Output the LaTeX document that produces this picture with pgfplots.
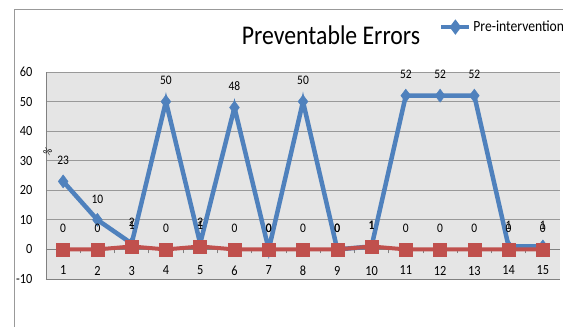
\documentclass[border=0pt]{standalone}
\usepackage{pgfplots}
\pgfplotsset{compat=1.18}
\usepackage{fontspec}
\setmainfont{Carlito}[FakeStretch=0.88]
\definecolor{cblue}{HTML}{4F81BD}
\definecolor{cred}{HTML}{C0504D}
\begin{document}
\begin{tikzpicture}[x=1pt,y=1pt]
\useasboundingbox (0,0) rectangle (563,327);
\draw[gray!80, line width=0.8pt] (14,0) -- (14,318) -- (563,318);
\node[font=\fontsize{27}{30}\selectfont, inner sep=0pt] at (331,292) {Preventable Errors};
\begin{axis}[at={(46pt,48pt)}, anchor=south west, scale only axis,
  width=514pt, height=207pt,
  xmin=0.5, xmax=15.5, ymin=-10, ymax=60,
  ytick={-10,0,10,20,30,40,50,60},
  xtick={1,...,15},
  axis x line*=middle, axis y line*=left,
  axis line style={gray, line width=0.8pt, -},
  axis background/.style={fill=gray!20},
  ymajorgrids, grid style={gray!80, line width=0.8pt},
  major tick length=0pt,
  ytick style={gray, line width=0.8pt},
  y tick label style={font=\fontsize{14}{15}\selectfont},
  yticklabel style={xshift=-10pt},
  x tick label style={font=\fontsize{14}{15}\selectfont, yshift=-13pt},
  /pgf/number format/assume math mode=true,
  extra x ticks={1.5,2.5,...,14.5},
  extra x tick labels={},
  extra x tick style={major tick length=4pt, tick align=outside, grid=none, tick style={gray, line width=0.7pt}},
  nodes near coords,
  every node near coord/.append style={font=\fontsize{13}{14}\selectfont, black, yshift=13pt},
  legend style={at={(0.765,1.217)}, anchor=west, draw=none, fill=none,
    font=\fontsize{15.5}{16}\selectfont, inner sep=0pt},
  legend image code/.code={
    \draw[cblue, line width=4pt] (0pt,0pt) -- (28pt,0pt);
    \fill[cblue] (14pt,4pt) -- (17pt,0pt) -- (14pt,-4pt) -- (11pt,0pt) -- cycle;
  },
  legend cell align=left,
  clip=false,
]
\draw[gray, line width=0.8pt] (rel axis cs:0,0) -- (rel axis cs:1,0);
\draw[gray, line width=0.8pt] (rel axis cs:0,0) -- (rel axis cs:0,1);
\addplot[cblue, line width=4.5pt, mark=diamond*, mark size=6.5pt, mark options={line width=0.5pt}] coordinates {
(1,23) (2,10) (3,2) (4,50) (5,2) (6,48) (7,0) (8,50) (9,0) (10,1) (11,52) (12,52) (13,52) (14,1) (15,1)};
\addlegendentry{Pre-intervention}
\addplot[cred, line width=4pt, mark=square*, mark size=6.5pt, mark options={line width=0.5pt}, forget plot] coordinates {
(1,0) (2,0) (3,1) (4,0) (5,1) (6,0) (7,0) (8,0) (9,0) (10,1) (11,0) (12,0) (13,0) (14,0) (15,0)};
\node[rotate=60, font=\fontsize{11}{12}\selectfont] at (axis cs:0.55,33) {\%};
\end{axis}
\end{tikzpicture}
\end{document}
